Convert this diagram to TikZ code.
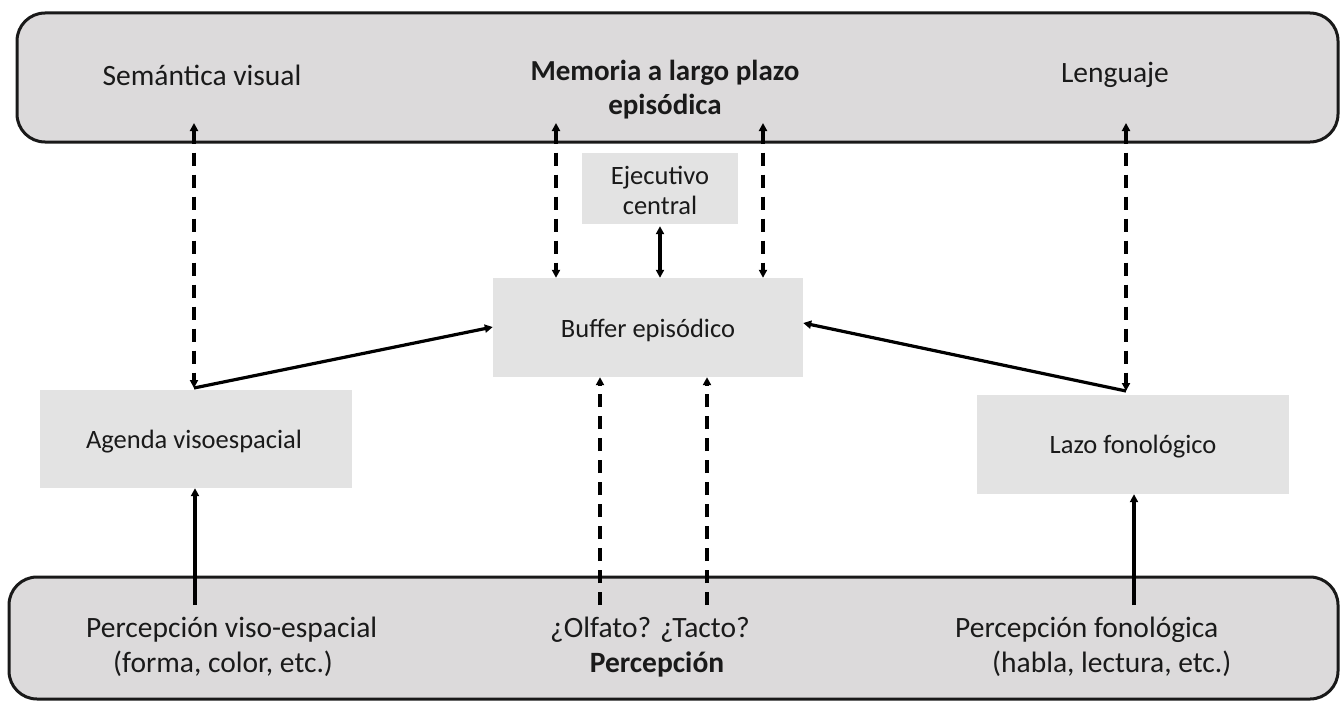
\documentclass[tikz,border=0pt]{standalone}
\usepackage{fontspec}
\setmainfont{Carlito}
\usetikzlibrary{arrows.meta}
\definecolor{bigfill}{HTML}{DCDADB}
\definecolor{boxfill}{HTML}{E3E3E3}
\definecolor{txt}{HTML}{1A1A1A}
\begin{document}
\begin{tikzpicture}[x=1pt,y=-1pt,
  big/.style={draw=black!90,line width=3pt,fill=bigfill,rounded corners=28pt},
  stepbox/.style={fill=boxfill,draw=none,inner sep=0pt},
  lbl/.style={text=txt,font=\fontsize{29.5}{35}\selectfont,inner sep=0pt},
  slbl/.style={text=txt,font=\fontsize{26.5}{30}\selectfont,inner sep=0pt},
  tip/.style={-{Triangle[length=8pt,width=8pt]}},
  tips/.style={{Triangle[length=8pt,width=8pt]}-{Triangle[length=8pt,width=8pt]}},
  sline/.style={line width=3.2pt,black},
  dline/.style={line width=3.2pt,black,dash pattern=on 13pt off 9pt}]
\useasboundingbox (0,0) rectangle (1340,701);
% large rounded bands
\draw[big] (17,13) rectangle (1338,142);
\draw[big] (9,577) rectangle (1338,699);
% inner boxes
\node[stepbox,minimum width=156pt,minimum height=71pt] (ejec) at (660,188.5) {};
\node[stepbox,minimum width=310pt,minimum height=99pt] (buf) at (648,327.5) {};
\node[stepbox,minimum width=312pt,minimum height=98pt] (agenda) at (196,439) {};
\node[stepbox,minimum width=312pt,minimum height=99pt] (lazo) at (1133,444.5) {};
% texts
\node[lbl] (sem) at (202,75) {Semántica visual};
\node[lbl,align=center,font=\fontsize{29}{34}\selectfont\bfseries] (mem) at (665,90) {Memoria a largo plazo\\episódica};
\node[lbl] (len) at (1115,75) {Lenguaje};
\node[slbl,align=center] (ejt) at (660,190) {Ejecutivo\\central};
\node[slbl] (buft) at (648,330) {Buffer episódico};
\node[slbl] (agt) at (194,442) {Agenda visoespacial};
\node[slbl] (lazt) at (1133,447) {Lazo fonológico};
\node[lbl,align=left,anchor=west] (pvis) at (86,647) {Percepción viso-espacial\\\hspace*{27pt}(forma, color, etc.)};
\node[lbl,align=center] (olf) at (650,647) {¿Olfato? ¿Tacto?\\\hspace*{14pt}\textbf{Percepción}};
\node[lbl,align=left,anchor=west] (pfon) at (955,647) {Percepción fonológica\\\hspace*{37pt}(habla, lectura, etc.)};
% connector end points
\coordinate (semIn) at (194,123);
\coordinate (lenIn) at (1126,123);
\coordinate (memL) at (556,123);
\coordinate (memR) at (763,123);
\coordinate (jL) at (194,388);
\coordinate (jR) at (1126,391);
\coordinate (pvisOut) at (195,605);
\coordinate (olfOut) at (600,605);
\coordinate (tacOut) at (707,605);
\coordinate (pfonOut) at (1134,605);
% connectors
\draw[dline,tips] (semIn) -- (jL);
\draw[sline,tip] (jL) -- (buf.west |- 0,327);
\draw[dline,tips] (lenIn) -- (jR);
\draw[sline,tip] (jR) -- (buf.east |- 0,323);
\draw[dline,tips] (memL) -- (memL |- buf.north);
\draw[dline,tips] (memR) -- (memR |- buf.north);
\draw[sline,tips] (ejec.south) ++(0,2) -- (ejec.south |- buf.north);
\draw[dline,tip] (olfOut) -- (olfOut |- buf.south);
\draw[dline,tip] (tacOut) -- (tacOut |- buf.south);
\draw[sline,tip] (pvisOut) -- (pvisOut |- agenda.south);
\draw[sline,tip] (pfonOut) -- (pfonOut |- lazo.south);
\end{tikzpicture}
\end{document}
